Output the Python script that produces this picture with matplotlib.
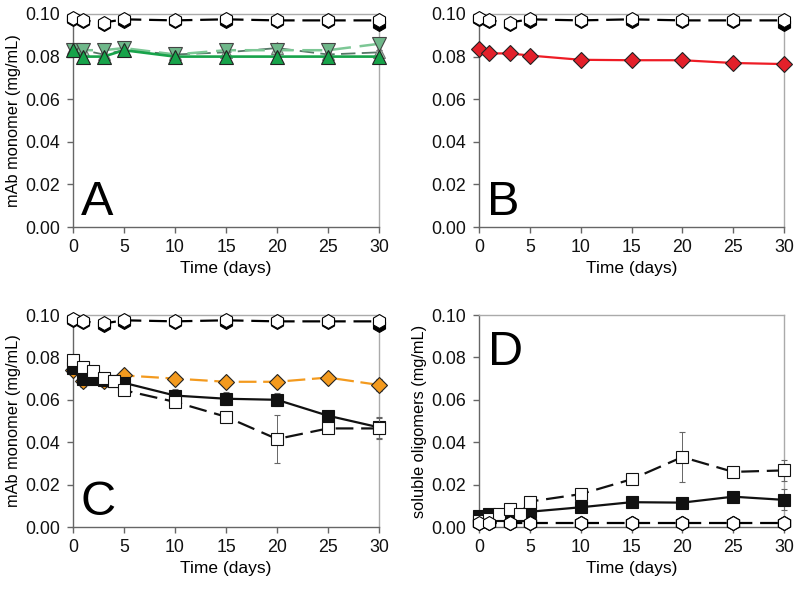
import matplotlib
matplotlib.use("Agg")
import matplotlib.pyplot as plt
import numpy as np

plt.rcParams['font.family'] = ['Liberation Sans', 'DejaVu Sans']

# ---------------- data ----------------
t9 = [0, 1, 3, 5, 10, 15, 20, 25, 30]
t11 = [0, 1, 2, 3, 4, 5, 10, 15, 20, 25, 30]

# control hexagons (all panels A-C)
hex_black = [0.0975, 0.0965, 0.0955, 0.0965, 0.0965, 0.0965, 0.0965, 0.0965, 0.0955]
hex_white = [0.098, 0.097, 0.096, 0.0975, 0.097, 0.0975, 0.097, 0.097, 0.097]
# panel D control hexagons
hexD_black = [0.002, 0.002, 0.002, 0.002, 0.002, 0.002, 0.002, 0.002, 0.002]
hexD_white = [0.002, 0.002, 0.002, 0.002, 0.002, 0.002, 0.002, 0.002, 0.002]

# panel A
A_up_dark = [0.083, 0.080, 0.080, 0.083, 0.080, 0.080, 0.080, 0.080, 0.080]
A_down_light = [0.083, 0.083, 0.083, 0.084, 0.081, 0.083, 0.083, 0.083, 0.086]
A_up_grey = [0.084, 0.083, 0.081, 0.083, 0.081, 0.082, 0.084, 0.081, 0.082]
A_err = [0.001, 0.001, 0.001, 0.001, 0.002, 0.001, 0.001, 0.001, 0.001]

# panel B
B_red = [0.0835, 0.0815, 0.0815, 0.0805, 0.0785, 0.0783, 0.0783, 0.077, 0.0765]

# panel C
C_orange = [0.074, 0.069, 0.069, 0.0715, 0.0700, 0.0685, 0.0685, 0.0705, 0.067]
C_orange_err = [0.001, 0.003, 0.003, 0.001, 0.001, 0.001, 0.001, 0.001, 0.003]
C_black = [0.075, 0.070, 0.070, 0.0695, 0.069, 0.068, 0.062, 0.0605, 0.0600, 0.0525, 0.047]
C_black_err = [0.002, 0.002, 0.002, 0.002, 0.002, 0.002, 0.003, 0.003, 0.003, 0.002, 0.005]
C_open = [0.079, 0.0755, 0.0735, 0.0705, 0.069, 0.0645, 0.059, 0.052, 0.0415, 0.0465, 0.0465]
C_open_err = [0.002, 0.002, 0.002, 0.002, 0.002, 0.002, 0.002, 0.002, 0.0115, 0.002, 0.005]

# panel D
D_black = [0.005, 0.0063, 0.0055, 0.005, 0.0055, 0.0072, 0.0093, 0.0117, 0.0115, 0.0143, 0.0128]
D_black_err = [0.001, 0.001, 0.001, 0.001, 0.001, 0.001, 0.001, 0.001, 0.001, 0.001, 0.005]
D_open = [0.003, 0.004, 0.006, 0.0083, 0.006, 0.012, 0.0155, 0.0225, 0.033, 0.026, 0.0267]
D_open_err = [0.001, 0.001, 0.001, 0.001, 0.001, 0.0015, 0.001, 0.001, 0.012, 0.001, 0.005]

xticks = [0, 5, 10, 15, 20, 25, 30]
yticks = [0.00, 0.02, 0.04, 0.06, 0.08, 0.10]

# ---------------- figure ----------------
fig = plt.figure(figsize=(8.0, 5.89), dpi=100)
W, H = 800, 589
def ax_at(x0, x1, ytop, ybot):
    return fig.add_axes([x0 / W, 1 - ybot / H, (x1 - x0) / W, (ybot - ytop) / H])

axA = ax_at(73, 379, 14, 227)
axB = ax_at(479, 784, 14, 227)
axC = ax_at(73, 379, 315, 527)
axD = ax_at(479, 784, 315, 527)

DASH = (8, 3.5)

def style(ax, ylabel, letter, letter_top=False):
    ax.set_xlim(0, 30)
    ax.set_ylim(0, 0.10)
    ax.set_xticks(xticks)
    ax.set_yticks(yticks)
    ax.set_yticklabels([f"{v:.2f}" for v in yticks])
    for s in ['left', 'bottom']:
        ax.spines[s].set_color('#666666')
        ax.spines[s].set_linewidth(1.0)
    for s in ['top', 'right']:
        ax.spines[s].set_color('#aaaaaa')
        ax.spines[s].set_linewidth(1.0)
    ax.tick_params(direction='out', length=4, width=1, color='#666666',
                   labelsize=12.8, labelcolor='#111111', pad=5)
    ax.set_xlabel('Time (days)', fontsize=12.5, labelpad=3)
    ax.set_ylabel(ylabel, fontsize=11.8, labelpad=3)
    if letter_top:
        ax.text(0.03, 0.93, letter, transform=ax.transAxes, fontsize=35,
                ha='left', va='top')
    else:
        ax.text(0.025, 0.01, letter, transform=ax.transAxes, fontsize=35,
                ha='left', va='bottom')

def hexes(ax, yb, yw):
    ax.plot(t9, yb, color='black', lw=0, marker='h', ms=10,
            mfc='black', mec='black', mew=0.8, clip_on=False, zorder=5)
    ax.plot(t9, yw, color='black', lw=1.6, dashes=DASH, marker='h', ms=10,
            mfc='white', mec='black', mew=0.8, clip_on=False, zorder=6)

# Panel A
hexes(axA, hex_black, hex_white)
axA.errorbar(t9, A_up_grey, yerr=A_err, color='#557766', lw=1.3, dashes=DASH,
             marker='^', ms=8, mfc='#a8d4b4', mec='#777777', mew=0.8,
             ecolor='#555555', elinewidth=0.7, capsize=2, clip_on=False, zorder=3)
axA.plot(t9, A_down_light, color='#7cc795', lw=1.8, dashes=DASH, marker='v', ms=10,
         mfc='#6fb88a', mec='#444444', mew=0.8, clip_on=False, zorder=4)
axA.plot(t9, A_up_dark, color='#17a34a', lw=1.9, marker='^', ms=10,
         mfc='#17a34a', mec='#222222', mew=0.8, clip_on=False, zorder=4)
style(axA, 'mAb monomer (mg/mL)', 'A')

# Panel B
hexes(axB, hex_black, hex_white)
axB.plot(t9, B_red, color='#ee1c25', lw=1.6, marker='D', ms=8,
         mfc='#e3202a', mec='#222222', mew=0.8, clip_on=False, zorder=4)
style(axB, '', 'B')

# Panel C
hexes(axC, hex_black, hex_white)
axC.errorbar(t9, C_orange, yerr=C_orange_err, color='#f39a1e', lw=1.6,
             dashes=(8, 3), marker='D', ms=8, mfc='#f39a1e', mec='#222222',
             mew=0.8, ecolor='#666666', elinewidth=0.7, capsize=2,
             clip_on=False, zorder=3)
axC.errorbar(t11, C_black, yerr=C_black_err, color='#111111', lw=1.6,
             marker='s', ms=8, mfc='#111111', mec='#111111', mew=0.8,
             ecolor='#666666', elinewidth=0.7, capsize=2, clip_on=False, zorder=4)
axC.errorbar(t11, C_open, yerr=C_open_err, color='#111111', lw=1.6, dashes=DASH,
             marker='s', ms=8.5, mfc='white', mec='#111111', mew=0.8,
             ecolor='#666666', elinewidth=0.7, capsize=2, clip_on=False, zorder=5)
style(axC, 'mAb monomer (mg/mL)', 'C')

# Panel D
axD.plot(t9, hexD_black, color='black', lw=0, marker='h', ms=10,
         mfc='black', mec='black', clip_on=False, zorder=5)
axD.plot(t9, hexD_white, color='black', lw=1.6, dashes=DASH, marker='h', ms=10,
         mfc='white', mec='black', mew=0.8, clip_on=False, zorder=6)
axD.errorbar(t11, D_black, yerr=D_black_err, color='#111111', lw=1.6,
             marker='s', ms=8, mfc='#111111', mec='#111111', mew=0.8,
             ecolor='#666666', elinewidth=0.7, capsize=2, clip_on=False, zorder=4)
axD.errorbar(t11, D_open, yerr=D_open_err, color='#111111', lw=1.6, dashes=DASH,
             marker='s', ms=8.5, mfc='white', mec='#111111', mew=0.8,
             ecolor='#666666', elinewidth=0.7, capsize=2, clip_on=False, zorder=5)
style(axD, 'soluble oligomers (mg/mL)', 'D', letter_top=True)

fig.savefig('out.png', dpi=100)
